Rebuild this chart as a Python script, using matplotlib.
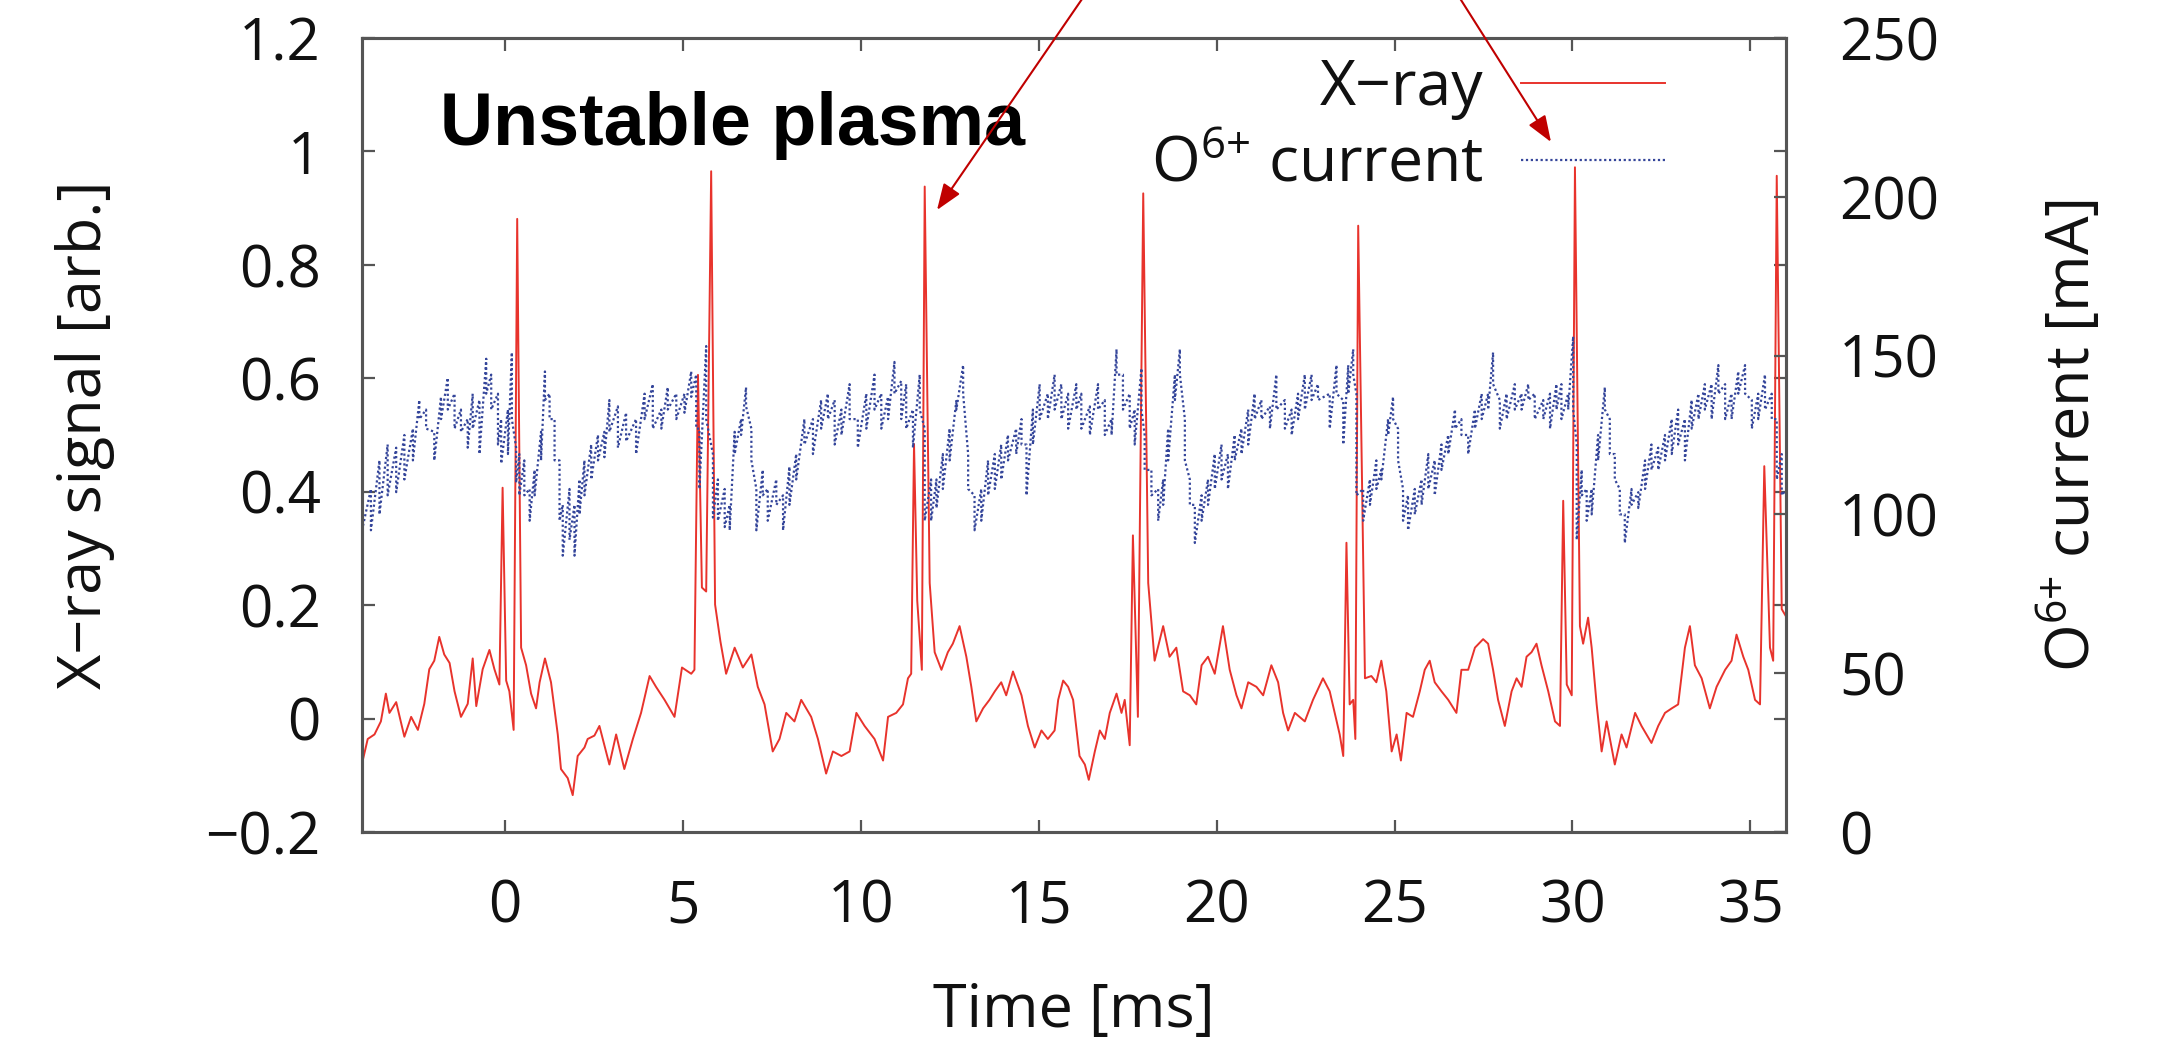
import numpy as np
import matplotlib
matplotlib.use("Agg")
import matplotlib.pyplot as plt
from matplotlib.patches import FancyArrowPatch

plt.rcParams.update({
    "font.family": ["Open Sans", "DejaVu Sans"],
    "mathtext.default": "regular",
    "axes.unicode_minus": True,
})

# X-ray signal [arb.] vs time [ms]
xray_t = [
    -3.99, -3.85, -3.66, -3.48, -3.34, -3.24, -3.05, -2.82, -2.63, -2.44,
    -2.26, -2.12, -1.98, -1.84, -1.70, -1.55, -1.41, -1.23, -1.04, -0.90,
    -0.80, -0.62, -0.43, -0.29, -0.15, -0.06, 0.04, 0.13, 0.25, 0.35,
    0.46, 0.60, 0.74, 0.88, 0.98, 1.13, 1.30, 1.49, 1.58, 1.77,
    1.91, 2.05, 2.24, 2.33, 2.52, 2.66, 2.94, 3.13, 3.36, 3.60,
    3.83, 4.07, 4.25, 4.49, 4.77, 4.98, 5.24, 5.33, 5.43, 5.54,
    5.66, 5.80, 5.91, 6.06, 6.22, 6.46, 6.69, 6.93, 7.11, 7.30,
    7.53, 7.72, 7.91, 8.14, 8.33, 8.61, 8.80, 9.03, 9.22, 9.46,
    9.69, 9.88, 10.11, 10.39, 10.63, 10.77, 11.00, 11.19, 11.33, 11.42,
    11.50, 11.59, 11.72, 11.80, 11.94, 12.08, 12.27, 12.45, 12.59, 12.78,
    12.97, 13.11, 13.25, 13.44, 13.62, 13.77, 13.95, 14.09, 14.28, 14.52,
    14.70, 14.89, 15.08, 15.26, 15.45, 15.55, 15.69, 15.83, 15.97, 16.15,
    16.30, 16.41, 16.58, 16.72, 16.86, 17.00, 17.19, 17.33, 17.42, 17.56,
    17.65, 17.79, 17.94, 18.08, 18.26, 18.50, 18.68, 18.87, 19.06, 19.25,
    19.43, 19.58, 19.76, 19.95, 20.18, 20.37, 20.56, 20.70, 20.89, 21.12,
    21.31, 21.54, 21.73, 21.87, 22.01, 22.20, 22.48, 22.71, 22.99, 23.18,
    23.32, 23.46, 23.56, 23.65, 23.74, 23.84, 23.90, 23.98, 24.17, 24.35,
    24.49, 24.63, 24.77, 24.92, 25.06, 25.18, 25.34, 25.52, 25.71, 25.85,
    25.99, 26.13, 26.32, 26.51, 26.74, 26.88, 27.07, 27.26, 27.49, 27.63,
    27.77, 27.91, 28.10, 28.29, 28.43, 28.57, 28.71, 28.85, 28.99, 29.13,
    29.32, 29.51, 29.65, 29.74, 29.84, 29.98, 30.07, 30.21, 30.30, 30.44,
    30.54, 30.68, 30.82, 30.96, 31.19, 31.38, 31.52, 31.76, 31.94, 32.22,
    32.41, 32.60, 32.79, 32.97, 33.16, 33.30, 33.44, 33.63, 33.86, 34.05,
    34.29, 34.47, 34.61, 34.80, 34.94, 35.13, 35.27, 35.39, 35.55, 35.64,
    35.74, 35.88, 36.02,
]
xray_v = [
    -0.074, -0.036, -0.028, -0.005, 0.044, 0.010, 0.029, -0.032, 0.003, -0.020,
    0.026, 0.087, 0.102, 0.144, 0.113, 0.098, 0.048, 0.003, 0.026, 0.106,
    0.022, 0.087, 0.121, 0.087, 0.060, 0.407, 0.067, 0.048, -0.020, 0.881,
    0.125, 0.094, 0.044, 0.018, 0.064, 0.106, 0.064, -0.028, -0.089, -0.105,
    -0.135, -0.066, -0.051, -0.036, -0.030, -0.013, -0.081, -0.028, -0.089, -0.036,
    0.010, 0.075, 0.056, 0.033, 0.003, 0.090, 0.079, 0.086, 0.606, 0.231,
    0.224, 0.965, 0.201, 0.136, 0.079, 0.125, 0.090, 0.113, 0.056, 0.025,
    -0.058, -0.036, 0.010, -0.005, 0.033, 0.003, -0.036, -0.097, -0.058, -0.066,
    -0.058, 0.010, -0.013, -0.036, -0.074, 0.003, 0.010, 0.025, 0.071, 0.079,
    0.484, 0.208, 0.086, 0.938, 0.239, 0.117, 0.086, 0.117, 0.132, 0.163,
    0.109, 0.056, -0.005, 0.018, 0.033, 0.048, 0.064, 0.041, 0.083, 0.041,
    -0.013, -0.051, -0.021, -0.036, -0.021, 0.033, 0.067, 0.056, 0.033, -0.066,
    -0.081, -0.108, -0.058, -0.021, -0.036, 0.010, 0.044, 0.010, 0.033, -0.047,
    0.323, 0.003, 0.926, 0.239, 0.102, 0.163, 0.109, 0.125, 0.048, 0.041,
    0.025, 0.094, 0.109, 0.079, 0.163, 0.086, 0.041, 0.018, 0.064, 0.056,
    0.041, 0.094, 0.064, 0.010, -0.021, 0.010, -0.005, 0.033, 0.071, 0.048,
    0.010, -0.028, -0.066, 0.310, 0.025, 0.033, -0.036, 0.869, 0.071, 0.075,
    0.064, 0.102, 0.048, -0.058, -0.028, -0.074, 0.010, 0.003, 0.048, 0.086,
    0.102, 0.064, 0.048, 0.033, 0.010, 0.086, 0.086, 0.125, 0.140, 0.132,
    0.086, 0.033, -0.013, 0.048, 0.071, 0.056, 0.109, 0.117, 0.132, 0.094,
    0.048, -0.005, -0.013, 0.384, 0.060, 0.041, 0.972, 0.163, 0.132, 0.178,
    0.125, 0.025, -0.058, -0.005, -0.081, -0.028, -0.051, 0.010, -0.013, -0.043,
    -0.013, 0.010, 0.018, 0.025, 0.125, 0.163, 0.094, 0.071, 0.018, 0.056,
    0.086, 0.102, 0.148, 0.109, 0.086, 0.033, 0.025, 0.445, 0.125, 0.102,
    0.957, 0.193, 0.178,
]

# O6+ current [mA]: the noisy band, read as upper / lower edge at each time
ion_t = [
    -3.99, -3.76, -3.52, -3.29, -3.05, -2.82, -2.58, -2.40, -2.21, -1.98,
    -1.79, -1.60, -1.41, -1.23, -1.04, -0.90, -0.71, -0.52, -0.38, -0.19,
    -0.10, 0.09, 0.20, 0.32, 0.41, 0.55, 0.70, 0.84, 1.02, 1.13,
    1.26, 1.40, 1.54, 1.63, 1.82, 1.96, 2.10, 2.24, 2.43, 2.62,
    2.80, 2.94, 3.18, 3.41, 3.69, 3.93, 4.16, 4.40, 4.58, 4.82,
    5.05, 5.24, 5.38, 5.47, 5.66, 5.85, 5.99, 6.18, 6.32, 6.46,
    6.64, 6.78, 6.93, 7.07, 7.25, 7.39, 7.63, 7.82, 8.00, 8.19,
    8.42, 8.66, 8.89, 9.08, 9.27, 9.46, 9.69, 9.92, 10.16, 10.39,
    10.58, 10.77, 10.95, 11.14, 11.28, 11.47, 11.66, 11.80, 11.98, 12.13,
    12.31, 12.50, 12.69, 12.88, 13.02, 13.20, 13.39, 13.58, 13.77, 13.95,
    14.14, 14.37, 14.52, 14.66, 14.84, 15.03, 15.26, 15.45, 15.64, 15.83,
    16.06, 16.20, 16.44, 16.67, 16.86, 17.05, 17.19, 17.37, 17.56, 17.70,
    17.89, 17.98, 18.17, 18.36, 18.50, 18.64, 18.83, 18.97, 19.11, 19.25,
    19.39, 19.58, 19.76, 19.95, 20.14, 20.32, 20.51, 20.70, 20.89, 21.07,
    21.26, 21.50, 21.68, 21.92, 22.11, 22.29, 22.48, 22.67, 22.85, 23.18,
    23.37, 23.56, 23.70, 23.84, 23.93, 24.12, 24.31, 24.49, 24.63, 24.82,
    24.96, 25.10, 25.24, 25.38, 25.57, 25.76, 25.95, 26.13, 26.32, 26.51,
    26.70, 26.88, 27.07, 27.26, 27.45, 27.63, 27.77, 27.96, 28.15, 28.38,
    28.57, 28.76, 28.94, 29.18, 29.37, 29.55, 29.69, 29.88, 30.02, 30.12,
    30.26, 30.40, 30.54, 30.72, 30.91, 31.05, 31.19, 31.33, 31.47, 31.66,
    31.85, 32.04, 32.22, 32.41, 32.60, 32.79, 32.97, 33.16, 33.35, 33.54,
    33.72, 33.91, 34.10, 34.29, 34.47, 34.66, 34.85, 35.04, 35.22, 35.41,
    35.60, 35.74, 35.88, 36.02,
]
ion_hi = [
    111, 108, 117, 122, 121, 125, 127, 136, 133, 126,
    137, 143, 138, 133, 130, 138, 136, 149, 144, 138,
    130, 133, 151, 121, 119, 117, 108, 114, 126, 145,
    138, 130, 117, 103, 108, 103, 111, 117, 122, 125,
    126, 136, 134, 132, 130, 138, 141, 133, 140, 138,
    138, 145, 144, 127, 153, 119, 111, 108, 103, 126,
    130, 140, 127, 108, 114, 108, 111, 106, 115, 119,
    130, 130, 136, 138, 136, 133, 141, 130, 138, 144,
    138, 137, 148, 142, 141, 133, 144, 127, 111, 111,
    119, 127, 136, 147, 119, 106, 108, 117, 119, 122,
    125, 127, 130, 122, 133, 141, 138, 144, 141, 138,
    141, 138, 134, 141, 136, 130, 152, 144, 138, 133,
    146, 125, 114, 108, 111, 127, 144, 152, 130, 111,
    103, 106, 111, 119, 122, 119, 125, 127, 133, 138,
    136, 134, 144, 136, 133, 138, 144, 144, 141, 138,
    147, 136, 147, 152, 138, 108, 111, 117, 114, 130,
    137, 127, 108, 106, 108, 111, 119, 117, 122, 125,
    133, 130, 125, 133, 138, 138, 151, 136, 138, 141,
    138, 141, 138, 136, 138, 141, 141, 138, 156, 122,
    114, 108, 108, 125, 140, 130, 119, 108, 100, 108,
    107, 117, 122, 121, 125, 130, 133, 130, 136, 138,
    141, 141, 147, 141, 138, 145, 147, 136, 138, 144,
    138, 130, 119, 108,
]
ion_lo = [
    96, 95, 100, 106, 107, 111, 117, 130, 127, 117,
    130, 133, 127, 126, 121, 127, 119, 138, 133, 122,
    116, 119, 130, 110, 106, 106, 98, 106, 117, 136,
    130, 117, 98, 87, 92, 87, 100, 106, 111, 117,
    118, 126, 121, 123, 119, 130, 127, 127, 133, 130,
    132, 137, 127, 108, 130, 99, 98, 96, 95, 119,
    125, 134, 117, 95, 106, 98, 103, 95, 103, 111,
    122, 119, 127, 130, 122, 125, 130, 121, 127, 133,
    127, 130, 138, 130, 127, 121, 133, 98, 98, 102,
    108, 117, 133, 138, 108, 95, 98, 106, 108, 111,
    117, 119, 122, 106, 122, 130, 130, 133, 130, 127,
    133, 127, 125, 133, 125, 125, 144, 133, 127, 122,
    133, 114, 106, 98, 103, 117, 136, 144, 117, 103,
    91, 98, 103, 108, 111, 108, 117, 119, 122, 130,
    130, 127, 133, 127, 125, 130, 133, 136, 136, 127,
    138, 122, 138, 144, 106, 98, 103, 108, 111, 125,
    130, 117, 98, 95, 100, 103, 108, 106, 114, 119,
    127, 125, 119, 127, 130, 133, 141, 127, 130, 133,
    133, 136, 130, 130, 127, 133, 130, 133, 133, 92,
    106, 98, 100, 117, 133, 119, 111, 100, 91, 103,
    102, 108, 114, 114, 117, 119, 122, 117, 127, 130,
    133, 130, 138, 130, 130, 138, 138, 127, 130, 133,
    130, 111, 106, 100,
]

x_ticks = [0, 5, 10, 15, 20, 25, 30, 35]
y_ticks = [-0.2, 0, 0.2, 0.4, 0.6, 0.8, 1.0, 1.2]
y_ticklabels = ["\u22120.2", "0", "0.2", "0.4", "0.6", "0.8", "1", "1.2"]
y2_ticks = [0, 50, 100, 150, 200, 250]

W, H = 2157, 1043
fig = plt.figure(figsize=(W / 100, H / 100), dpi=100)
ax = fig.add_axes([0.168, 0.2023, 0.66, 0.7613])
ax2 = ax.twinx()

red = "#e8332c"
blue = "#34459a"
spine_col = "#555555"

line_x, = ax.plot(xray_t, xray_v, color=red, lw=1.4, zorder=3)

# band drawn as a dotted trace running between the upper and lower edges
band_t = np.repeat(ion_t, 2)
band_v = np.column_stack([ion_hi, ion_lo]).ravel()
line_o, = ax2.plot(band_t, band_v, color=blue, lw=1.6, ls=(0, (1.0, 1.2)), zorder=2)

ax.set_xlim(-4, 36)
ax.set_ylim(-0.2, 1.2)
ax2.set_ylim(0, 250)

ax.set_xticks(x_ticks)
ax.set_yticks(y_ticks)
ax.set_yticklabels(y_ticklabels)
ax2.set_yticks(y2_ticks)

for a in (ax, ax2):
    for s in a.spines.values():
        s.set_color(spine_col)
        s.set_linewidth(2.2)

ax.tick_params(axis="both", direction="in", length=9, width=1.6, color=spine_col,
               top=True, right=True, labelsize=42, labelcolor="#111111")
ax.tick_params(axis="x", pad=33)
ax.tick_params(axis="y", pad=30)
ax2.tick_params(axis="y", direction="in", length=9, width=1.6, color=spine_col,
                labelsize=42, labelcolor="#111111", pad=38)

ax.set_xlabel("Time [ms]", fontsize=44, color="#111111", va="center")
ax.xaxis.set_label_coords(0.5, -0.226)
ax.set_ylabel("X\u2212ray signal [arb.]", fontsize=44, color="#111111", va="center")
ax.yaxis.set_label_coords(-0.195, 0.5)
ax2.set_ylabel("O$^{6{+}}$ current [mA]", fontsize=44, color="#111111", va="center")
ax2.yaxis.set_label_coords(1.1996, 0.5)

ax.text(0.0545, 0.8654, "Unstable plasma", transform=ax.transAxes,
        fontsize=53, fontweight="bold", family="Liberation Sans",
        ha="left", va="baseline", color="black", zorder=5)

leg = ax2.legend([line_x, line_o], ["X\u2212ray", "O$^{6{+}}$ current"],
                 loc="upper right", bbox_to_anchor=(0.915, 0.975), frameon=False,
                 markerfirst=False, fontsize=45, handlelength=2.3,
                 handletextpad=0.6, labelspacing=0.22, borderpad=0,
                 borderaxespad=0)
for t in leg.get_texts():
    t.set_color("#111111")

# arrows coming in from above the figure
arrow_col = "#c00000"
for (x0, y0), (x1, y1) in [((1102, -30), (937, 210)), ((1442, -30), (1551, 142))]:
    arr = FancyArrowPatch((x0 / W, 1 - y0 / H), (x1 / W, 1 - y1 / H),
                          transform=fig.transFigure,
                          arrowstyle="-|>,head_length=0.8,head_width=0.3",
                          mutation_scale=20, lw=1.5, color=arrow_col,
                          shrinkA=0, shrinkB=0)
    fig.add_artist(arr)

fig.savefig("out.png", dpi=100)
